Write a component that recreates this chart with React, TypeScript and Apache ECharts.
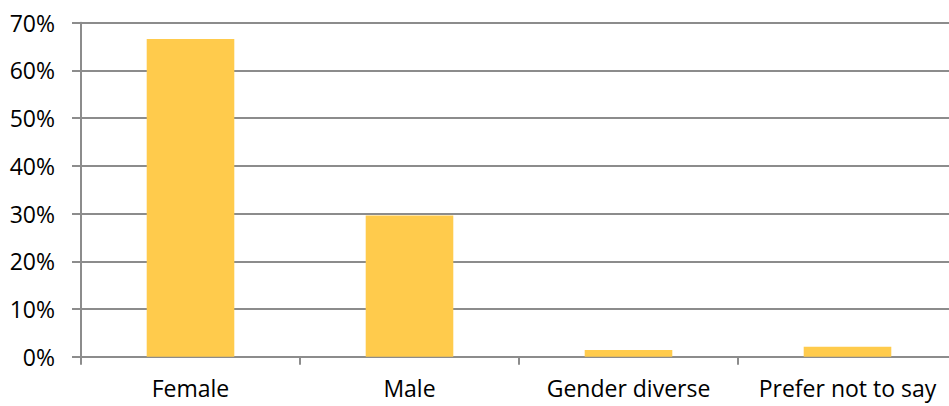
import React, { useEffect, useRef } from "react";
import * as echarts from "echarts";

const categories = ["Female", "Male", "Gender diverse", "Prefer not to say"];
const shares = [66.6, 29.6, 1.4, 2.1];
const yTicks = [0, 10, 20, 30, 40, 50, 60, 70];

export default function App() {
  const ref = useRef<HTMLDivElement>(null);

  useEffect(() => {
    if (!ref.current) return;
    const chart = echarts.init(ref.current, null, { renderer: "svg" });
    const font = "'Open Sans', 'Liberation Sans', sans-serif";
    chart.setOption({
      animation: false,
      backgroundColor: "#ffffff",
      grid: {
        left: 81,
        top: 22.7,
        width: 876,
        height: 334,
        containLabel: false,
        outerBoundsMode: "none",
      },
      xAxis: {
        type: "category",
        data: categories,
        axisLine: { show: true, lineStyle: { color: "#8c8c8c", width: 2 } },
        axisTick: { show: true, length: 8, lineStyle: { color: "#8c8c8c", width: 2 } },
        axisLabel: { color: "#000000", fontFamily: font, fontSize: 23, margin: 20, interval: 0 },
      },
      yAxis: {
        type: "value",
        min: 0,
        max: yTicks[yTicks.length - 1],
        interval: 10,
        axisLine: { show: true, lineStyle: { color: "#8c8c8c", width: 2 } },
        axisTick: { show: true, length: 9, lineStyle: { color: "#8c8c8c", width: 2 } },
        splitLine: { show: true, lineStyle: { color: "#8c8c8c", width: 2 } },
        axisLabel: {
          color: "#000000",
          fontFamily: font,
          fontSize: 23,
          margin: 26,
          formatter: (v: number) => `${v}%`,
        },
      },
      series: [
        {
          type: "bar",
          data: shares,
          barWidth: "40%",
          itemStyle: { color: "#ffcb4c" },
        },
      ],
    });
    return () => chart.dispose();
  }, []);

  return (
    <div
      ref={ref}
      style={{ position: "fixed", left: 0, top: 0, width: 949, height: 406, background: "#fff" }}
    />
  );
}
